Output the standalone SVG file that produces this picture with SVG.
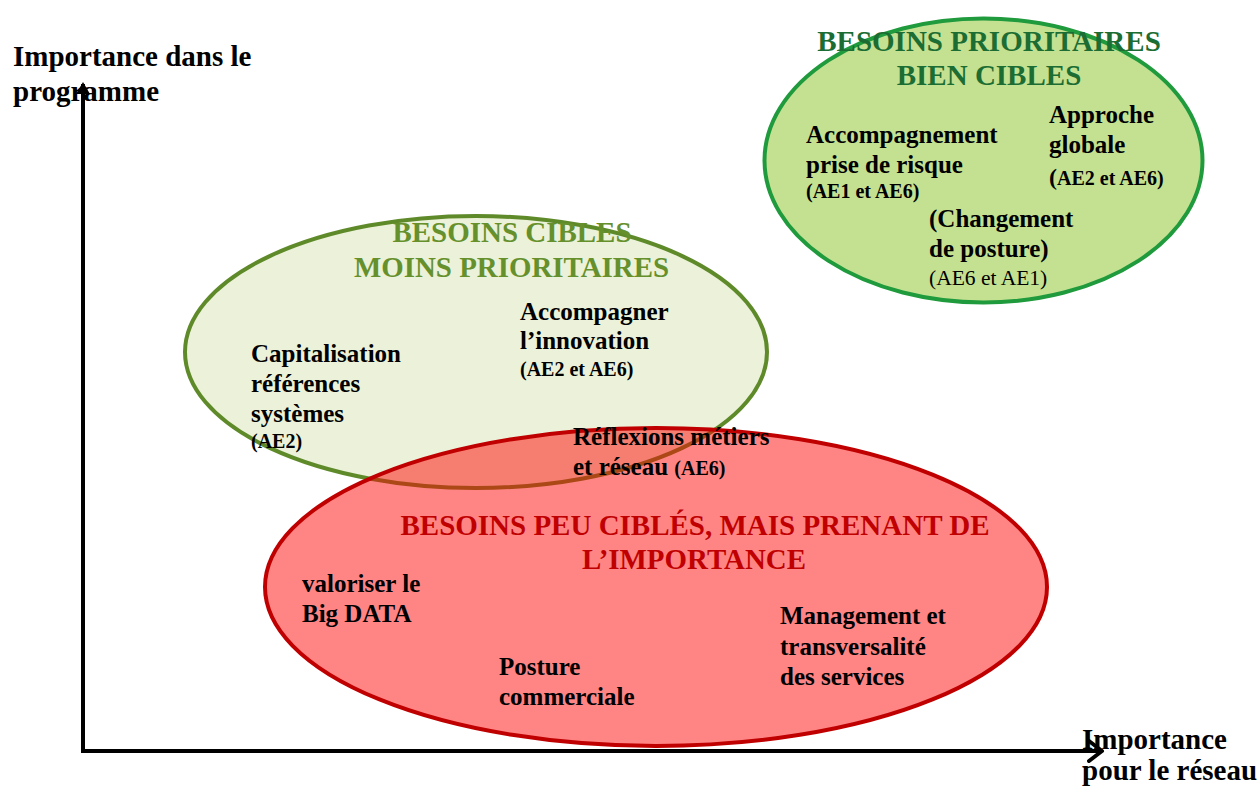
<svg xmlns="http://www.w3.org/2000/svg" width="1259" height="787" viewBox="0 0 1259 787">
  <style>
    text { font-family: "Liberation Serif", "Times New Roman", serif; font-weight: bold; fill: #000; }
    .axis { font-size: 29px; }
    .item { font-size: 25px; }
    .ref { font-size: 20px; }
    .refr { font-size: 21.5px; font-weight: normal; }
    .title { font-size: 29px; text-anchor: middle; }
    .t1 { fill: #1b6d33; }
    .t2 { fill: #66902c; }
    .t3 { fill: #c00000; }
  </style>
  <defs>
    <marker id="tri" markerWidth="14" markerHeight="14" refX="10" refY="7" orient="auto" markerUnits="userSpaceOnUse">
      <path d="M0,0 L12,7 L0,14 Z" fill="#000"/>
    </marker>
    <marker id="chev" markerWidth="20" markerHeight="24" refX="15" refY="12" orient="auto" markerUnits="userSpaceOnUse">
      <path d="M2,2 L15,12 L2,22" fill="none" stroke="#000" stroke-width="4" stroke-linecap="round" stroke-linejoin="round"/>
    </marker>
  </defs>

  <rect width="1259" height="787" fill="#fff"/>

  <g id="ellipse-moins-prioritaires">
    <ellipse cx="476" cy="352" rx="291" ry="136" fill="#ebf2d9" stroke="#5f8a2a" stroke-width="4"/>
  </g>
  <g id="ellipse-prioritaires">
    <ellipse cx="983.5" cy="160.5" rx="219" ry="142" fill="#c4e191" stroke="#1f9a3c" stroke-width="4"/>
  </g>
  <g id="ellipse-peu-cibles">
    <ellipse cx="656" cy="587" rx="391" ry="159" fill="#ff0000" fill-opacity="0.48" stroke="#c00000" stroke-width="4"/>
  </g>

  <g id="connectors">
    <line x1="83" y1="753" x2="83" y2="84" stroke="#000" stroke-width="4" marker-end="url(#tri)"/>
    <line x1="81" y1="751" x2="1102" y2="751" stroke="#000" stroke-width="4" marker-end="url(#chev)"/>
  </g>

  <g id="axis-y-label">
    <text class="axis" x="13" y="66">Importance dans le</text>
    <text class="axis" x="13" y="101">programme</text>
  </g>
  <g id="axis-x-label">
    <text class="axis" x="1082" y="749">Importance</text>
    <text class="axis" x="1082" y="780">pour le réseau</text>
  </g>

  <g id="node-prioritaires-title">
    <text class="title t1" x="989" y="51">BESOINS PRIORITAIRES</text>
    <text class="title t1" x="989" y="85">BIEN CIBLES</text>
  </g>
  <g id="node-accompagnement-risque">
    <text class="item" x="806" y="143">Accompagnement</text>
    <text class="item" x="806" y="173">prise de risque</text>
    <text class="ref" x="806" y="198">(AE1 et AE6)</text>
  </g>
  <g id="node-approche-globale">
    <text class="item" x="1049" y="123">Approche</text>
    <text class="item" x="1049" y="153">globale</text>
    <text class="ref" x="1049" y="185"><tspan font-size="24">(</tspan>AE2 et AE6)</text>
  </g>
  <g id="node-changement-posture">
    <text class="item" x="929" y="227">(Changement</text>
    <text class="item" x="929" y="257">de posture)</text>
    <text class="refr" x="929" y="285">(AE6 et AE1)</text>
  </g>

  <g id="node-moins-prioritaires-title">
    <text class="title t2" x="512" y="242" textLength="239" lengthAdjust="spacingAndGlyphs">BESOINS CIBLES</text>
    <text class="title t2" x="511.5" y="277" textLength="315" lengthAdjust="spacingAndGlyphs">MOINS PRIORITAIRES</text>
  </g>
  <g id="node-capitalisation">
    <text class="item" x="251" y="362">Capitalisation</text>
    <text class="item" x="251" y="392">références</text>
    <text class="item" x="251" y="422">systèmes</text>
    <text class="ref" x="251" y="448">(AE2)</text>
  </g>
  <g id="node-accompagner-innovation">
    <text class="item" x="520" y="320">Accompagner</text>
    <text class="item" x="520" y="349">l’innovation</text>
    <text class="ref" x="520" y="376">(AE2 et AE6)</text>
  </g>
  <g id="node-reflexions">
    <text class="item" x="573" y="445">Réflexions métiers</text>
    <text class="item" x="573" y="475">et réseau <tspan class="ref">(AE6)</tspan></text>
  </g>

  <g id="node-peu-cibles-title">
    <text class="title t3" x="695" y="535" textLength="589" lengthAdjust="spacingAndGlyphs">BESOINS PEU CIBLÉS, MAIS PRENANT DE</text>
    <text class="title t3" x="694" y="569" textLength="224" lengthAdjust="spacingAndGlyphs">L’IMPORTANCE</text>
  </g>
  <g id="node-big-data">
    <text class="item" x="302" y="592">valoriser  le</text>
    <text class="item" x="302" y="622">Big DATA</text>
  </g>
  <g id="node-posture-commerciale">
    <text class="item" x="499" y="675">Posture</text>
    <text class="item" x="499" y="705">commerciale</text>
  </g>
  <g id="node-management">
    <text class="item" x="780" y="624">Management et</text>
    <text class="item" x="780" y="655">transversalité</text>
    <text class="item" x="780" y="685">des services</text>
  </g>
</svg>
